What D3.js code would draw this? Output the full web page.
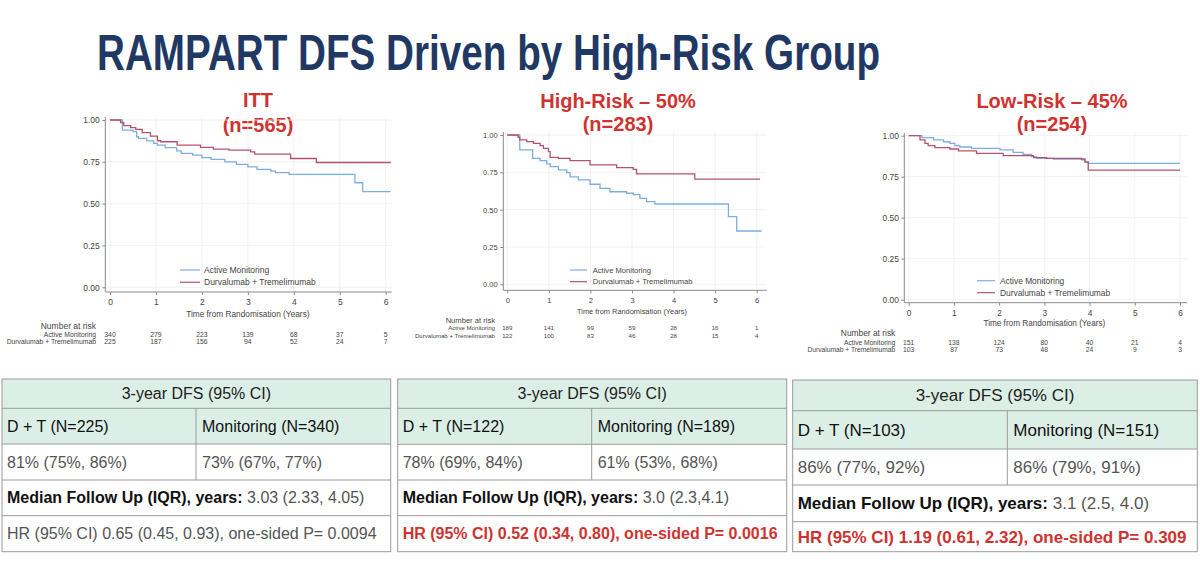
<!DOCTYPE html>
<html>
<head>
<meta charset="utf-8">
<script src="https://cdn.jsdelivr.net/npm/d3@7"></script>
<style>
  body { margin: 0; background: #fff; }
  svg { display: block; font-family: "Liberation Sans", Arial, sans-serif; }
</style>
</head>
<body>
<svg id="chart" width="1200" height="565"></svg>
<script>
const xTicks = [0, 1, 2, 3, 4, 5, 6];
const yTicks = [0, 0.25, 0.5, 0.75, 1];
const seriesNames = ["Active Monitoring", "Durvalumab + Tremelimumab"];
const panelTitles = [["ITT", "(n=565)"], ["High-Risk \u2013 50%", "(n=283)"], ["Low-Risk \u2013 45%", "(n=254)"]];

// Kaplan-Meier steps: [years, DFS]
const ittActive = [[0,1],[0.27,0.94],[0.5,0.93],[0.58,0.9],[0.62,0.89],[0.8,0.875],[0.95,0.86],[1.03,0.85],[1.2,0.835],[1.45,0.815],[1.55,0.8],[1.8,0.79],[2.0,0.775],[2.2,0.765],[2.5,0.75],[2.75,0.735],[3.0,0.72],[3.2,0.705],[3.5,0.695],[3.6,0.685],[3.9,0.675],[5.33,0.625],[5.5,0.572],[6.11,0.572]];
const ittDT = [[0,1],[0.23,0.985],[0.3,0.966],[0.45,0.955],[0.56,0.944],[0.7,0.924],[0.88,0.904],[1.03,0.876],[1.1,0.87],[1.46,0.85],[1.97,0.836],[2.25,0.826],[2.59,0.82],[3.06,0.81],[3.15,0.796],[3.93,0.77],[4.49,0.746],[6.11,0.746]];
const highActive = [[0,1],[0.3,0.9],[0.61,0.844],[0.79,0.828],[0.95,0.806],[1.03,0.788],[1.23,0.766],[1.43,0.748],[1.51,0.72],[1.71,0.7],[1.99,0.67],[2.23,0.643],[2.47,0.62],[2.87,0.61],[3.03,0.6],[3.19,0.576],[3.35,0.554],[3.55,0.538],[5.32,0.453],[5.52,0.357],[6.12,0.357]];
const highDT = [[0,1],[0.26,0.985],[0.3,0.967],[0.47,0.955],[0.63,0.944],[0.79,0.929],[0.87,0.911],[0.99,0.888],[1.03,0.85],[1.23,0.844],[1.51,0.828],[1.99,0.8],[2.63,0.781],[3.03,0.77],[3.11,0.739],[4.51,0.705],[6.08,0.705]];
const lowActive = [[0,1],[0.29,0.988],[0.55,0.974],[0.77,0.963],[0.91,0.953],[1.02,0.939],[1.13,0.931],[1.39,0.923],[2.02,0.913],[2.31,0.898],[2.53,0.886],[2.72,0.872],[2.83,0.862],[3.2,0.858],[3.82,0.852],[3.9,0.837],[3.97,0.831],[6.0,0.831]];
const lowDT = [[0,1],[0.25,0.974],[0.36,0.953],[0.43,0.939],[0.58,0.927],[0.91,0.919],[1.1,0.907],[1.5,0.892],[2.09,0.878],[2.76,0.866],[3.05,0.862],[3.82,0.858],[3.9,0.841],[3.97,0.79],[6.0,0.79]];

// Number at risk at years 0..6
const ittRisk = [[340, 279, 223, 139, 68, 37, 5], [225, 187, 156, 94, 52, 24, 7]];
const highRisk = [[189, 141, 99, 59, 28, 16, 1], [122, 100, 83, 46, 28, 15, 4]];
const lowRisk = [[151, 138, 124, 80, 40, 21, 4], [103, 87, 73, 48, 24, 9, 3]];

// 3-year DFS tables
const tableHead = "3-year DFS (95% CI)";
const dtLabels = ["D + T (N=225)", "D + T (N=122)", "D + T (N=103)"];
const monLabels = ["Monitoring (N=340)", "Monitoring (N=189)", "Monitoring (N=151)"];
const dtDfs = ["81% (75%, 86%)", "78% (69%, 84%)", "86% (77%, 92%)"];
const monDfs = ["73% (67%, 77%)", "61% (53%, 68%)", "86% (79%, 91%)"];
const followUp = ["3.03 (2.33, 4.05)", "3.0 (2.3,4.1)", "3.1 (2.5, 4.0)"];
const hrText = ["HR (95% CI) 0.65 (0.45, 0.93), one-sided P= 0.0094", "HR (95% CI) 0.52 (0.34, 0.80), one-sided P= 0.0016", "HR (95% CI) 1.19 (0.61, 2.32), one-sided P= 0.309"];
const hrHighlight = [false, true, true];

const colors = ["#7eaedf", "#b5526f"];
const red = "#cf3330";
const svg = d3.select("#chart");

svg.append("text")
    .attr("x", 97).attr("y", 70)
    .attr("font-family", "'Liberation Sans Narrow', 'Liberation Sans', Arial, sans-serif")
    .attr("font-size", 50).attr("font-weight", "bold")
    .attr("fill", "#1f3864")
    .attr("textLength", 783).attr("lengthAdjust", "spacingAndGlyphs")
    .text("RAMPART DFS Driven by High-Risk Group");

const panels = [
    { curves: [ittActive, ittDT], risk: ittRisk, x0: 110, x6: 385.7, y0: 287.3, y1: 120, axisX: 105.3, axisY: 292, right: 391.7, top: 117,
      fs: 8.5, xLabY: 303.3, xTitY: 314, lx: 180, lx2: 200, ltx: 204, ly: [270, 282.3], rl: 96, rh: 325.7, rr: [334.2, 342], rfs: 6.8, tc: 258, tb: [107, 132] },
    { curves: [highActive, highDT], risk: highRisk, x0: 507.3, x6: 756.7, y0: 284.3, y1: 135, axisX: 503.3, axisY: 290.3, right: 766.7, top: 132,
      fs: 7.6, xLabY: 300.3, xTitY: 311, lx: 570, lx2: 587, ltx: 592.7, ly: [270, 281.7], rl: 495, rh: 320.7, rr: [328.3, 335.7], rfs: 6.1, tc: 618, tb: [108, 131] },
    { curves: [lowActive, lowDT], risk: lowRisk, x0: 908.7, x6: 1180, y0: 299.7, y1: 135.7, axisX: 904.3, axisY: 302.7, right: 1187, top: 133,
      fs: 8.4, xLabY: 311.7, xTitY: 323.3, lx: 977, lx2: 995, ltx: 1000, ly: [280.7, 292.7], rl: 895.3, rh: 333.5, rr: [343, 350], rfs: 6.7, tc: 1052, tb: [108, 131] }
];

panels.forEach((p, i) => {
    const x = d3.scaleLinear().domain([0, 6]).range([p.x0, p.x6]);
    const y = d3.scaleLinear().domain([0, 1]).range([p.y0, p.y1]);
    const g = svg.append("g");

    // panel heading
    panelTitles[i].forEach((t, k) => {
        g.append("text")
            .attr("x", p.tc).attr("y", p.tb[k])
            .attr("text-anchor", "middle")
            .attr("font-size", 20).attr("font-weight", "bold")
            .attr("fill", red)
            .text(t);
    });

    // grid
    g.append("g").selectAll("line").data(xTicks).join("line")
        .attr("x1", d => x(d)).attr("x2", d => x(d))
        .attr("y1", p.top).attr("y2", p.axisY)
        .attr("stroke", "#eeeeee").attr("stroke-width", 0.8);
    g.append("g").selectAll("line").data(yTicks).join("line")
        .attr("x1", p.axisX).attr("x2", p.right)
        .attr("y1", d => y(d)).attr("y2", d => y(d))
        .attr("stroke", "#eeeeee").attr("stroke-width", 0.8);

    // axes
    const yAxis = g.append("g")
        .attr("transform", `translate(${p.axisX},0)`)
        .call(d3.axisLeft(y).tickValues(yTicks).tickFormat(d3.format(".2f")).tickSize(3).tickPadding(2.5));
    const xAxis = g.append("g")
        .attr("transform", `translate(0,${p.axisY})`)
        .call(d3.axisBottom(x).tickValues(xTicks).tickFormat(d3.format("d")).tickSize(3).tickPadding(4));
    [yAxis, xAxis].forEach(a => {
        a.select(".domain").remove();
        a.selectAll("line").attr("stroke", "#8a8a8a");
        a.selectAll("text").attr("font-size", p.fs).attr("fill", "#444")
            .attr("font-family", "'Liberation Sans', Arial, sans-serif");
    });
    g.append("line").attr("x1", p.axisX).attr("x2", p.axisX).attr("y1", p.top).attr("y2", p.axisY).attr("stroke", "#8a8a8a");
    g.append("line").attr("x1", p.axisX).attr("x2", p.right).attr("y1", p.axisY).attr("y2", p.axisY).attr("stroke", "#8a8a8a");

    g.append("text")
        .attr("x", (p.x0 + p.x6) / 2).attr("y", p.xTitY)
        .attr("dy", "0.35em").attr("text-anchor", "middle")
        .attr("font-size", p.fs - 0.2).attr("fill", "#444")
        .text("Time from Randomisation (Years)");

    // survival curves
    const line = d3.line().x(d => x(d[0])).y(d => y(d[1])).curve(d3.curveStepAfter);
    p.curves.forEach((c, k) => {
        g.append("path").datum(c)
            .attr("d", line)
            .attr("fill", "none")
            .attr("stroke", colors[k])
            .attr("stroke-width", 1.3);
    });

    // legend
    seriesNames.forEach((s, k) => {
        g.append("line")
            .attr("x1", p.lx).attr("x2", p.lx2)
            .attr("y1", p.ly[k]).attr("y2", p.ly[k])
            .attr("stroke", colors[k]).attr("stroke-width", 1.2);
        g.append("text")
            .attr("x", p.ltx).attr("y", p.ly[k]).attr("dy", "0.35em")
            .attr("font-size", p.fs).attr("fill", "#444")
            .text(s);
    });

    // number at risk
    g.append("text")
        .attr("x", p.rl).attr("y", p.rh).attr("dy", "0.35em")
        .attr("text-anchor", "end").attr("font-size", p.fs).attr("fill", "#444")
        .text("Number at risk");
    seriesNames.forEach((s, k) => {
        g.append("text")
            .attr("x", p.rl).attr("y", p.rr[k]).attr("dy", "0.35em")
            .attr("text-anchor", "end").attr("font-size", p.rfs).attr("fill", "#444")
            .text(s);
        g.append("g").selectAll("text").data(p.risk[k]).join("text")
            .attr("x", (d, j) => x(xTicks[j])).attr("y", p.rr[k]).attr("dy", "0.35em")
            .attr("text-anchor", "middle").attr("font-size", p.rfs).attr("fill", "#444")
            .text(d => d);
    });
});

// tables
const tables = [
    { left: 2, right: 390.7, col: 196, rows: [379, 408.3, 444, 480, 515.7, 551.7], fs: 16 },
    { left: 397.7, right: 786.7, col: 591.7, rows: [379, 408.3, 444.3, 480, 515.7, 551.7], fs: 16 },
    { left: 792.7, right: 1197.3, col: 1007.3, rows: [380, 410.7, 449, 485, 521.7, 551.7], fs: 17 }
];

tables.forEach((t, i) => {
    const g = svg.append("g");
    const r = t.rows;
    const mid = k => (r[k] + r[k + 1]) / 2;

    g.append("rect").attr("x", t.left).attr("y", r[0])
        .attr("width", t.right - t.left).attr("height", r[2] - r[0])
        .attr("fill", "#dcefe7");

    const stroke = "#9a9a9a";
    g.append("rect").attr("x", t.left).attr("y", r[0])
        .attr("width", t.right - t.left).attr("height", r[5] - r[0])
        .attr("fill", "none").attr("stroke", stroke);
    [1, 2, 3, 4].forEach(k => {
        g.append("line").attr("x1", t.left).attr("x2", t.right)
            .attr("y1", r[k]).attr("y2", r[k]).attr("stroke", stroke);
    });
    g.append("line").attr("x1", t.col).attr("x2", t.col)
        .attr("y1", r[1]).attr("y2", r[3]).attr("stroke", stroke);

    const txt = (x, y, s, opts = {}) => g.append("text")
        .attr("x", x).attr("y", y).attr("dy", "0.35em")
        .attr("font-size", t.fs)
        .attr("text-anchor", opts.anchor || "start")
        .attr("font-weight", opts.bold ? "bold" : "normal")
        .attr("fill", opts.fill || "#222")
        .text(s);

    txt((t.left + t.right) / 2, mid(0), tableHead, { anchor: "middle" });
    txt(t.left + 5, mid(1), dtLabels[i], { fill: "#111" });
    txt(t.col + 6, mid(1), monLabels[i], { fill: "#111" });
    txt(t.left + 5, mid(2), dtDfs[i], { fill: "#555" });
    txt(t.col + 6, mid(2), monDfs[i], { fill: "#555" });

    const fu = g.append("text")
        .attr("x", t.left + 5).attr("y", mid(3)).attr("dy", "0.35em")
        .attr("font-size", t.fs);
    fu.append("tspan").attr("font-weight", "bold").attr("fill", "#111").text("Median Follow Up (IQR), years: ");
    fu.append("tspan").attr("fill", "#555").text(followUp[i]);

    txt(t.left + 5, mid(4), hrText[i], hrHighlight[i] ? { bold: true, fill: red } : { fill: "#555" });
});
</script>
</body>
</html>
